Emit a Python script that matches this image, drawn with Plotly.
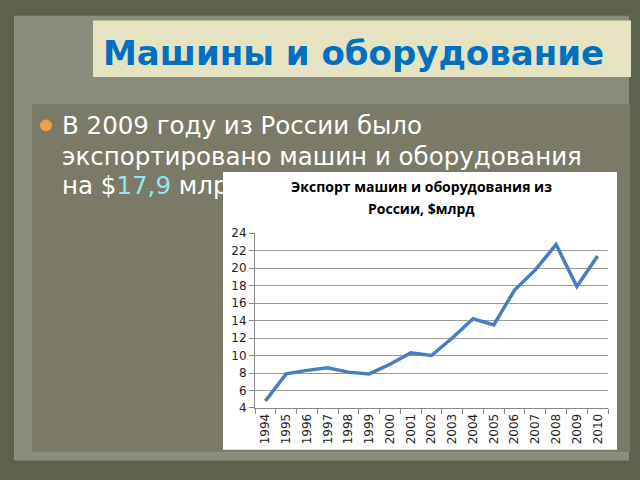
import plotly.graph_objects as go

years = ["1994", "1995", "1996", "1997", "1998", "1999", "2000", "2001", "2002",
         "2003", "2004", "2005", "2006", "2007", "2008", "2009", "2010"]
exports = [4.8, 7.9, 8.3, 8.6, 8.1, 7.9, 9.0, 10.3, 10.0,
           12.0, 14.2, 13.5, 17.5, 19.8, 22.7, 17.9, 21.4]

slide_title = "Машины и оборудование"
body_lines = ["В 2009 году из России было",
              "экспортировано машин и оборудования",
              "на $<span style='color:#8fe6f2'>17,9</span> млр"]
chart_title = ["Экспорт машин и оборудования из", "России, $млрд"]

W, H = 640, 480
def px(x):
    return x / W
def py(y):
    return 1 - y / H

fig = go.Figure()
fig.add_trace(go.Scatter(x=years, y=exports, mode="lines",
                         line=dict(color="#4a7dbd", width=3.5),
                         hoverinfo="x+y"))

shapes = [
    dict(type="rect", xref="paper", yref="paper", x0=px(14), x1=px(629), y0=py(467), y1=py(9),
         fillcolor="#8a8d7d", line=dict(width=0), layer="below"),
    dict(type="rect", xref="paper", yref="paper", x0=px(32), x1=px(630), y0=py(458), y1=py(100),
         fillcolor="#7b7a68", line=dict(width=0), layer="below"),
    dict(type="rect", xref="paper", yref="paper", x0=px(93), x1=px(631), y0=py(72), y1=py(14),
         fillcolor="#e6e3c3", line=dict(width=0), layer="below"),
    dict(type="rect", xref="paper", yref="paper", x0=px(223), x1=px(617), y0=py(456), y1=py(170),
         fillcolor="#ffffff", line=dict(width=0), layer="below"),
    dict(type="circle", xref="paper", yref="paper", x0=px(40), x1=px(52), y0=py(128), y1=py(116),
         fillcolor="#f0a040", line=dict(width=0), layer="below"),
]

annotations = [
    dict(text="<b>" + slide_title + "</b>", xref="paper", yref="paper", x=px(101), y=py(47),
         xanchor="left", yanchor="middle", showarrow=False,
         font=dict(family="DejaVu Sans", size=34, color="#0070c0")),
]
for line, yc in zip(body_lines, [122, 154, 184]):
    annotations.append(dict(text=line, xref="paper", yref="paper", x=px(60), y=py(yc),
                            xanchor="left", yanchor="middle", showarrow=False,
                            font=dict(family="DejaVu Sans", size=24.5, color="#ffffff")))
for line, yc in zip(chart_title, [185, 208]):
    annotations.append(dict(text="<b>" + line + "</b>", xref="paper", yref="paper", x=px(421), y=py(yc),
                            xanchor="center", yanchor="middle", showarrow=False,
                            font=dict(family="Open Sans", size=14, color="#000000")))

fig.update_layout(
    width=W, height=H, margin=dict(l=0, r=0, t=0, b=0),
    paper_bgcolor="#5d624e", plot_bgcolor="#ffffff",
    showlegend=False, shapes=shapes, annotations=annotations,
    xaxis=dict(domain=[px(255), px(608)], type="category", range=[-0.5, 16.5],
               showline=True, linecolor="#888888", linewidth=1,
               ticks="outside", tickson="boundaries", ticklen=5, tickcolor="#888888",
               tickangle=-90, showgrid=False, zeroline=False,
               tickfont=dict(family="DejaVu Sans", size=12, color="#222222")),
    yaxis=dict(domain=[py(413), py(233)], range=[4, 24], dtick=2, tick0=4,
               showline=True, linecolor="#888888", linewidth=1,
               ticks="outside", ticklen=5, tickcolor="#888888",
               gridcolor="#999999", gridwidth=1, zeroline=False,
               tickfont=dict(family="DejaVu Sans", size=12, color="#222222")),
)

fig.write_html("out.html", config={"displayModeBar": False},
               post_script="document.body.style.margin='0';document.body.style.overflow='hidden';")
